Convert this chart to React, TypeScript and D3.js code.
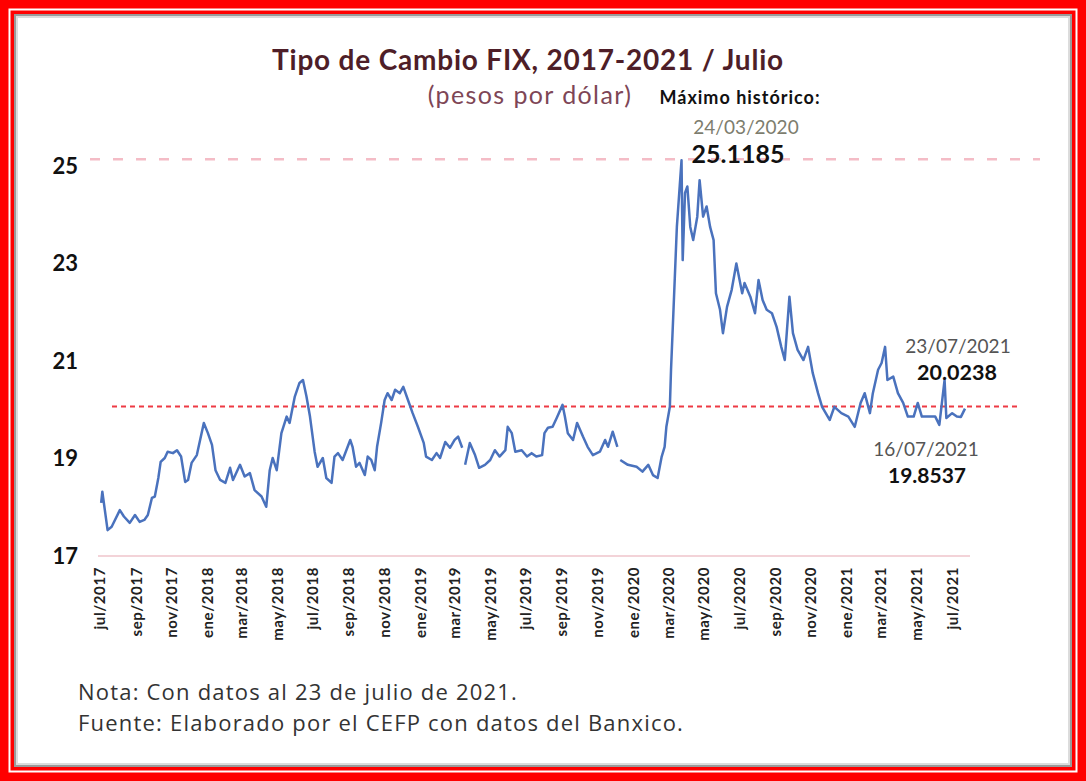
import React from 'react';
import * as d3 from 'd3';

const dates: string[] = [
  "2017-07-03","2017-07-05","2017-07-14","2017-07-21","2017-08-04","2017-08-11","2017-08-21","2017-08-30",
  "2017-09-07","2017-09-15","2017-09-21","2017-09-28","2017-10-03","2017-10-09","2017-10-13","2017-10-20",
  "2017-10-25","2017-11-03","2017-11-10","2017-11-17","2017-11-24","2017-11-29","2017-12-05","2017-12-14",
  "2017-12-26","2018-01-02","2018-01-09","2018-01-15","2018-01-23","2018-02-01","2018-02-09","2018-02-14",
  "2018-02-26","2018-03-06","2018-03-15","2018-03-23","2018-04-04","2018-04-12","2018-04-18","2018-04-23",
  "2018-04-30","2018-05-08","2018-05-17","2018-05-22","2018-05-31","2018-06-08","2018-06-14","2018-06-20",
  "2018-06-26","2018-07-04","2018-07-09","2018-07-18","2018-07-24","2018-08-02","2018-08-07","2018-08-13",
  "2018-08-21","2018-09-03","2018-09-07","2018-09-13","2018-09-19","2018-09-28","2018-10-03","2018-10-09",
  "2018-10-15","2018-10-19","2018-10-26","2018-11-01","2018-11-06","2018-11-13","2018-11-19","2018-11-27",
  "2018-12-03","2018-12-11","2018-12-19","2018-12-28","2019-01-07","2019-01-11","2019-01-21","2019-01-29",
  "2019-02-04","2019-02-13","2019-02-21","2019-03-01","2019-03-07","2019-03-14","2019-03-17","2019-03-19",
  "2019-03-27","2019-04-05","2019-04-12","2019-04-22","2019-05-01","2019-05-09","2019-05-17","2019-05-27",
  "2019-05-31","2019-06-07","2019-06-13","2019-06-24","2019-07-03","2019-07-11","2019-07-19","2019-07-29",
  "2019-08-02","2019-08-08","2019-08-16","2019-08-23","2019-09-02","2019-09-06","2019-09-11","2019-09-20",
  "2019-09-27","2019-10-07","2019-10-15","2019-10-24","2019-11-05","2019-11-14","2019-11-19","2019-11-27",
  "2019-12-05","2019-12-07","2019-12-10","2019-12-23","2020-01-07","2020-01-17","2020-01-27","2020-02-04",
  "2020-02-12","2020-02-19","2020-02-24","2020-02-27","2020-03-04","2020-03-06","2020-03-10","2020-03-16",
  "2020-03-24","2020-03-26","2020-03-30","2020-04-03","2020-04-08","2020-04-13","2020-04-20","2020-04-24",
  "2020-04-30","2020-05-06","2020-05-12","2020-05-18","2020-05-22","2020-05-29","2020-06-03","2020-06-10",
  "2020-06-18","2020-06-26","2020-07-06","2020-07-10","2020-07-20","2020-07-28","2020-08-03","2020-08-10",
  "2020-08-17","2020-08-26","2020-09-03","2020-09-11","2020-09-17","2020-09-25","2020-10-01","2020-10-09",
  "2020-10-19","2020-10-27","2020-11-04","2020-11-13","2020-11-20","2020-12-03","2020-12-11","2020-12-23",
  "2021-01-04","2021-01-15","2021-01-25","2021-02-01","2021-02-10","2021-02-15","2021-02-24","2021-03-02",
  "2021-03-08","2021-03-12","2021-03-22","2021-03-30","2021-04-08","2021-04-16","2021-04-26","2021-05-03",
  "2021-05-10","2021-05-21","2021-06-02","2021-06-09","2021-06-18","2021-06-21","2021-07-01","2021-07-09",
  "2021-07-16","2021-07-23"
];

const fixValues: (number | null)[] = [
  18.09,18.32,17.53,17.60,17.94,17.81,17.68,17.84,
  17.70,17.74,17.84,18.19,18.22,18.60,18.93,19.01,
  19.14,19.11,19.17,19.04,18.52,18.56,18.91,19.07,
  19.73,19.52,19.28,18.76,18.56,18.50,18.81,18.56,
  18.87,18.63,18.70,18.35,18.22,18.01,18.76,19.01,
  18.76,19.52,19.86,19.73,20.27,20.55,20.61,20.27,
  19.86,19.14,18.83,19.01,18.60,18.50,19.04,19.11,
  18.97,19.38,19.24,18.83,18.91,18.66,19.04,18.97,
  18.76,19.24,19.73,20.20,20.34,20.20,20.41,20.34,
  20.47,20.20,19.93,19.65,19.32,19.04,18.97,19.11,
  19.01,19.34,19.22,19.38,19.45,19.22,null,18.87,
  19.32,19.07,18.81,18.87,18.97,19.17,19.04,19.17,
  19.65,19.52,19.14,19.17,19.04,19.11,19.04,19.07,
  19.52,19.63,19.65,19.83,20.10,19.86,19.52,19.38,
  19.73,19.45,19.24,19.07,19.14,19.38,19.24,19.55,
  19.24,null,18.97,18.87,18.83,18.73,18.87,18.66,
  18.60,19.04,19.24,19.65,20.06,20.82,21.98,23.75,
  25.1185,23.07,24.45,24.58,23.75,23.48,23.96,24.71,
  23.96,24.17,23.75,23.48,22.39,22.05,21.57,22.11,
  22.46,23.00,22.39,22.60,22.32,21.98,22.66,22.25,
  22.05,21.98,21.70,21.29,21.02,22.32,21.57,21.23,
  21.02,21.29,20.75,20.34,20.06,19.79,20.06,19.93,
  19.86,19.65,20.14,20.34,19.93,20.34,20.82,20.96,
  21.29,20.61,20.68,20.34,20.14,19.86,19.86,20.14,
  19.86,19.86,19.86,19.69,20.61,19.83,19.93,19.86,
  19.8537,20.0238
];

const tickDates: string[] = [
  "2017-07-01","2017-09-01","2017-11-01","2018-01-01","2018-03-01","2018-05-01","2018-07-01",
  "2018-09-01","2018-11-01","2019-01-01","2019-03-01","2019-05-01","2019-07-01","2019-09-01",
  "2019-11-01","2020-01-01","2020-03-01","2020-05-01","2020-07-01","2020-09-01","2020-11-01",
  "2021-01-01","2021-03-01","2021-05-01","2021-07-01"
];
const tickLabels: string[] = [
  "jul/2017","sep/2017","nov/2017","ene/2018","mar/2018","may/2018","jul/2018",
  "sep/2018","nov/2018","ene/2019","mar/2019","may/2019","jul/2019","sep/2019",
  "nov/2019","ene/2020","mar/2020","may/2020","jul/2020","sep/2020","nov/2020",
  "ene/2021","mar/2021","may/2021","jul/2021"
];
const yTicks: number[] = [17, 19, 21, 23, 25];

const maxValue = 25.1185;
const lastValue = 20.0238;

const W = 1086;
const H = 781;
const FONT = "Lato, 'Open Sans', 'DejaVu Sans', sans-serif";
const BODY_FONT = "'Open Sans', Lato, sans-serif";

export default function App() {
  const parse = d3.utcParse("%Y-%m-%d");
  const data = dates.map((d, i) => ({ date: parse(d) as Date, value: fixValues[i] }));

  const x = d3.scaleUtc()
    .domain([parse("2017-07-01") as Date, parse("2021-07-23") as Date])
    .range([100, 965]);
  const y = d3.scaleLinear().domain([17, 25]).range([556, 166]);

  const line = d3.line<{ date: Date; value: number | null }>()
    .defined(d => d.value !== null)
    .x(d => x(d.date))
    .y(d => y(d.value as number));

  return (
    <svg width={W} height={H} style={{ position: 'absolute', left: 0, top: 0 }} fontFamily={FONT}>
      {/* frame */}
      <rect x={0} y={0} width={W} height={H} fill="#ff0000" />
      <rect x={9.5} y={9.5} width={W - 19} height={H - 19} fill="none" stroke="#ffffff" strokeWidth={2} />
      <rect x={14} y={14} width={W - 28} height={H - 28} fill="#ffffff" />
      <rect x={15} y={15} width={W - 30} height={H - 30} fill="none" stroke="#9a9a9a" strokeWidth={2} />
      <rect x={17} y={17} width={W - 34} height={H - 34} fill="none" stroke="#dcdcdc" strokeWidth={2} />

      {/* title */}
      <text x={528} y={70} textAnchor="middle" fontSize={28} fontWeight="bold" fill="#4e1e28" letterSpacing={0.8}>
        Tipo de Cambio FIX, 2017-2021 / Julio
      </text>
      <text x={530} y={104} textAnchor="middle" fontSize={25} fill="#7e4656" letterSpacing={1.4}>
        (pesos por dólar)
      </text>

      {/* y axis labels */}
      {yTicks.map(t => (
        <text key={t} x={78} y={y(t)} dy="0.36em" textAnchor="end" fontSize={22} fontWeight="bold" fill="#111">
          {t}
        </text>
      ))}

      {/* baseline */}
      <line x1={98} x2={970} y1={y(17)} y2={y(17)} stroke="#f3d3d8" strokeWidth={2} />

      {/* max dashed line */}
      <line x1={90} x2={1040} y1={y(maxValue) - 1} y2={y(maxValue) - 1} stroke="#f4bcc6" strokeWidth={2.5} strokeDasharray="10 13" />

      {/* current value dotted line */}
      <line x1={112} x2={1020} y1={y(lastValue) - 2} y2={y(lastValue) - 2} stroke="#ee3a44" strokeWidth={2} strokeDasharray="5 4" />

      {/* series */}
      <path d={line(data) as string} fill="none" stroke="#4a72bd" strokeWidth={2.5} strokeLinejoin="round" />

      {/* x axis labels */}
      {tickDates.map((d, i) => {
        const xp = x(parse(d) as Date);
        return (
          <text key={d} transform={`translate(${xp},567) rotate(-90)`} textAnchor="end" dy="0.36em"
            fontSize={15} fontWeight="bold" fill="#222" letterSpacing={0.6}>
            {tickLabels[i]}
          </text>
        );
      })}

      {/* annotations */}
      <text x={740} y={104} textAnchor="middle" fontSize={18} fontWeight="bold" fill="#111" letterSpacing={1}>Máximo histórico:</text>
      <text x={746} y={134} textAnchor="middle" fontSize={19} fill="#7d7d6e">24/03/2020</text>
      <text x={738} y={163} textAnchor="middle" fontSize={25} fontWeight="bold" fill="#111">25.1185</text>

      <text x={958} y={353} textAnchor="middle" fontSize={19} fill="#555">23/07/2021</text>
      <text x={957} y={380} textAnchor="middle" fontSize={21.5} fontWeight="bold" fill="#111">20.0238</text>

      <text x={926} y={456} textAnchor="middle" fontSize={19} fill="#555">16/07/2021</text>
      <text x={927} y={483} textAnchor="middle" fontSize={21} fontWeight="bold" fill="#111">19.8537</text>

      {/* notes */}
      <text x={78} y={700} fontSize={22} fill="#333" fontFamily={BODY_FONT} letterSpacing={1.2}>Nota: Con datos al 23 de julio de 2021.</text>
      <text x={78} y={731} fontSize={22} fill="#333" fontFamily={BODY_FONT} letterSpacing={1.2}>Fuente: Elaborado por el CEFP con datos del Banxico.</text>
    </svg>
  );
}
